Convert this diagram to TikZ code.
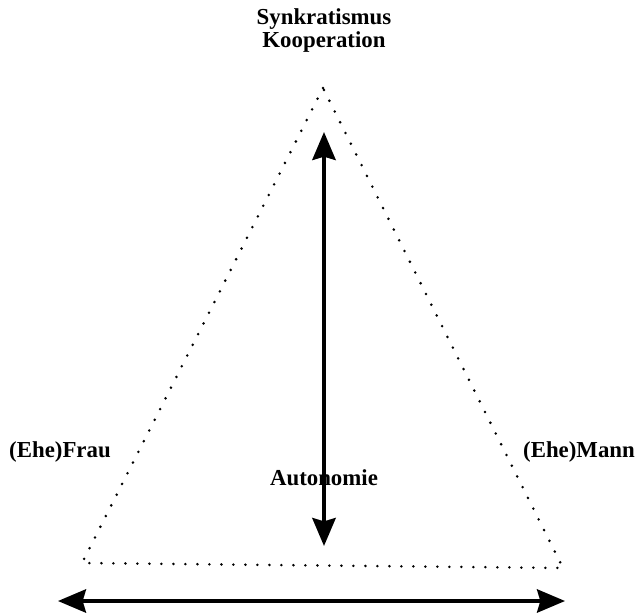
\documentclass[tikz,border=0pt]{standalone}
\usepackage{fontspec}
\setmainfont{Liberation Serif}
\usetikzlibrary{arrows.meta}

\begin{document}
\begin{tikzpicture}[x=0.03cm,y=-0.03cm,
	>/.tip={Stealth[length=0.84cm,width=0.7cm,inset=0.1cm]},
	lbl/.style={inner sep=0pt,font=\bfseries\fontsize{19.5pt}{19pt}\selectfont},
	dotline/.style={line width=0.085cm,line cap=round,dash pattern=on 0pt off 0.36cm},
	bigarrow/.style={<->,line width=0.11cm}]
	\useasboundingbox (0,0) rectangle (638,613);

	% triangle corners
	\coordinate (apex) at (323,88);
	\coordinate (bl) at (82,563);
	\coordinate (br) at (563,568);
	\draw[dotline] (apex) -- (bl) -- (br) -- cycle;

	% labels
	\node (koop) [lbl,align=center,anchor=base] at (324,47) {Synkratismus\\Kooperation};
	\node (frau) [lbl,anchor=base] at (60,457) {(Ehe)Frau};
	\node (mann) [lbl,anchor=base] at (579,457) {(Ehe)Mann};
	\node (auto) [lbl,anchor=base] at (324,485) {Autonomie};

	% arrows
	\coordinate (vtop) at (324,132);
	\coordinate (vbot) at (324,546);
	\coordinate (hleft) at (58,601);
	\coordinate (hright) at (565,601);
	\draw[bigarrow] (vtop) -- (vbot);
	\draw[bigarrow,line width=0.1cm] (hleft) -- (hright);
\end{tikzpicture}
\end{document}
